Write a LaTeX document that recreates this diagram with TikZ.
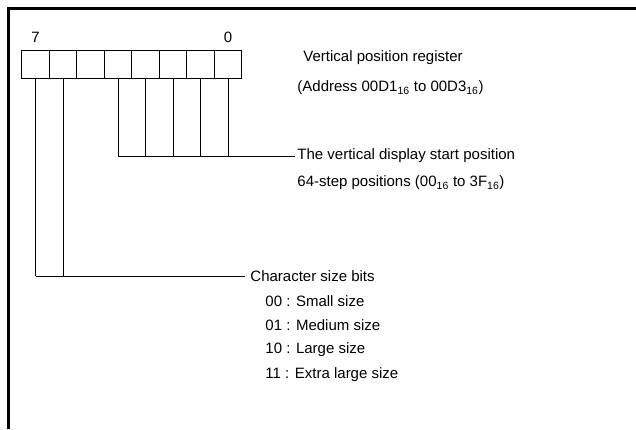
\documentclass[tikz,border=0pt]{standalone}
\usepackage{fontspec}
\setmainfont{Liberation Sans}

\begin{document}
\begin{tikzpicture}[x=1pt, y=-1pt, line width=0.9pt,
    bitcell/.style={rectangle, draw, inner sep=0pt, minimum width=27.5pt, minimum height=27.5pt},
    lbl/.style={anchor=west, inner sep=0pt, font=\fontsize{15}{18}\selectfont}]
    \useasboundingbox (0, 0) rectangle (636, 429);

    % Frame
    \draw[line width=3pt] (8, 429) -- (8, 8) -- (636, 8);

    % Register cells
    \path
    (35.5, 64.5) node[bitcell] (c7) {}
    (63, 64.5) node[bitcell] (c6) {}
    (90.5, 64.5) node[bitcell] (c5) {}
    (118, 64.5) node[bitcell] (c4) {}
    (145.5, 64.5) node[bitcell] (c3) {}
    (173, 64.5) node[bitcell] (c2) {}
    (200.5, 64.5) node[bitcell] (c1) {}
    (228, 64.5) node[bitcell] (c0) {}
    ;

    % Bit numbers
    \node[font=\fontsize{15}{18}\selectfont] (n7) at (35.5, 37) {7};
    \node[font=\fontsize{15}{18}\selectfont] (n0) at (228, 37) {0};

    % Labels
    \path
    (303, 58) node[lbl] (reg) {Vertical position register}
    (297, 88) node[lbl] (addr) {(Address 00D1\textsubscript{16} to 00D3\textsubscript{16})}
    (297, 156) node[lbl] (vstart) {The vertical display start position}
    (297, 183) node[lbl] (steps) {64-step positions (00\textsubscript{16} to 3F\textsubscript{16})}
    (250, 276) node[lbl] (csize) {Character size bits}
    (265, 301) node[lbl] (s00) {00 : Small size}
    (265, 325.5) node[lbl] (s01) {01 : Medium size}
    (265, 350) node[lbl] (s10) {10 : Large size}
    (265, 374.5) node[lbl] (s11) {11 : Extra large size}
    ;

    % Joints
    \coordinate (j4) at (c4.south |- vstart.west);
    \coordinate (j3) at (c3.south |- vstart.west);
    \coordinate (j2) at (c2.south |- vstart.west);
    \coordinate (j1) at (c1.south |- vstart.west);
    \coordinate (j0) at (c0.south |- vstart.west);
    \coordinate (j7) at (c7.south |- csize.west);
    \coordinate (j6) at (c6.south |- csize.west);

    % Start position bits
    \draw (c4.south) -- (j4);
    \draw (c3.south) -- (j3);
    \draw (c2.south) -- (j2);
    \draw (c1.south) -- (j1);
    \draw (c0.south) -- (j0);
    \draw (j4) -- ([xshift=-2pt]vstart.west);

    % Character size bits
    \draw (c7.south) -- (j7);
    \draw (c6.south) -- (j6);
    \draw (j7) -- ([xshift=-5pt]csize.west);

\end{tikzpicture}
\end{document}
